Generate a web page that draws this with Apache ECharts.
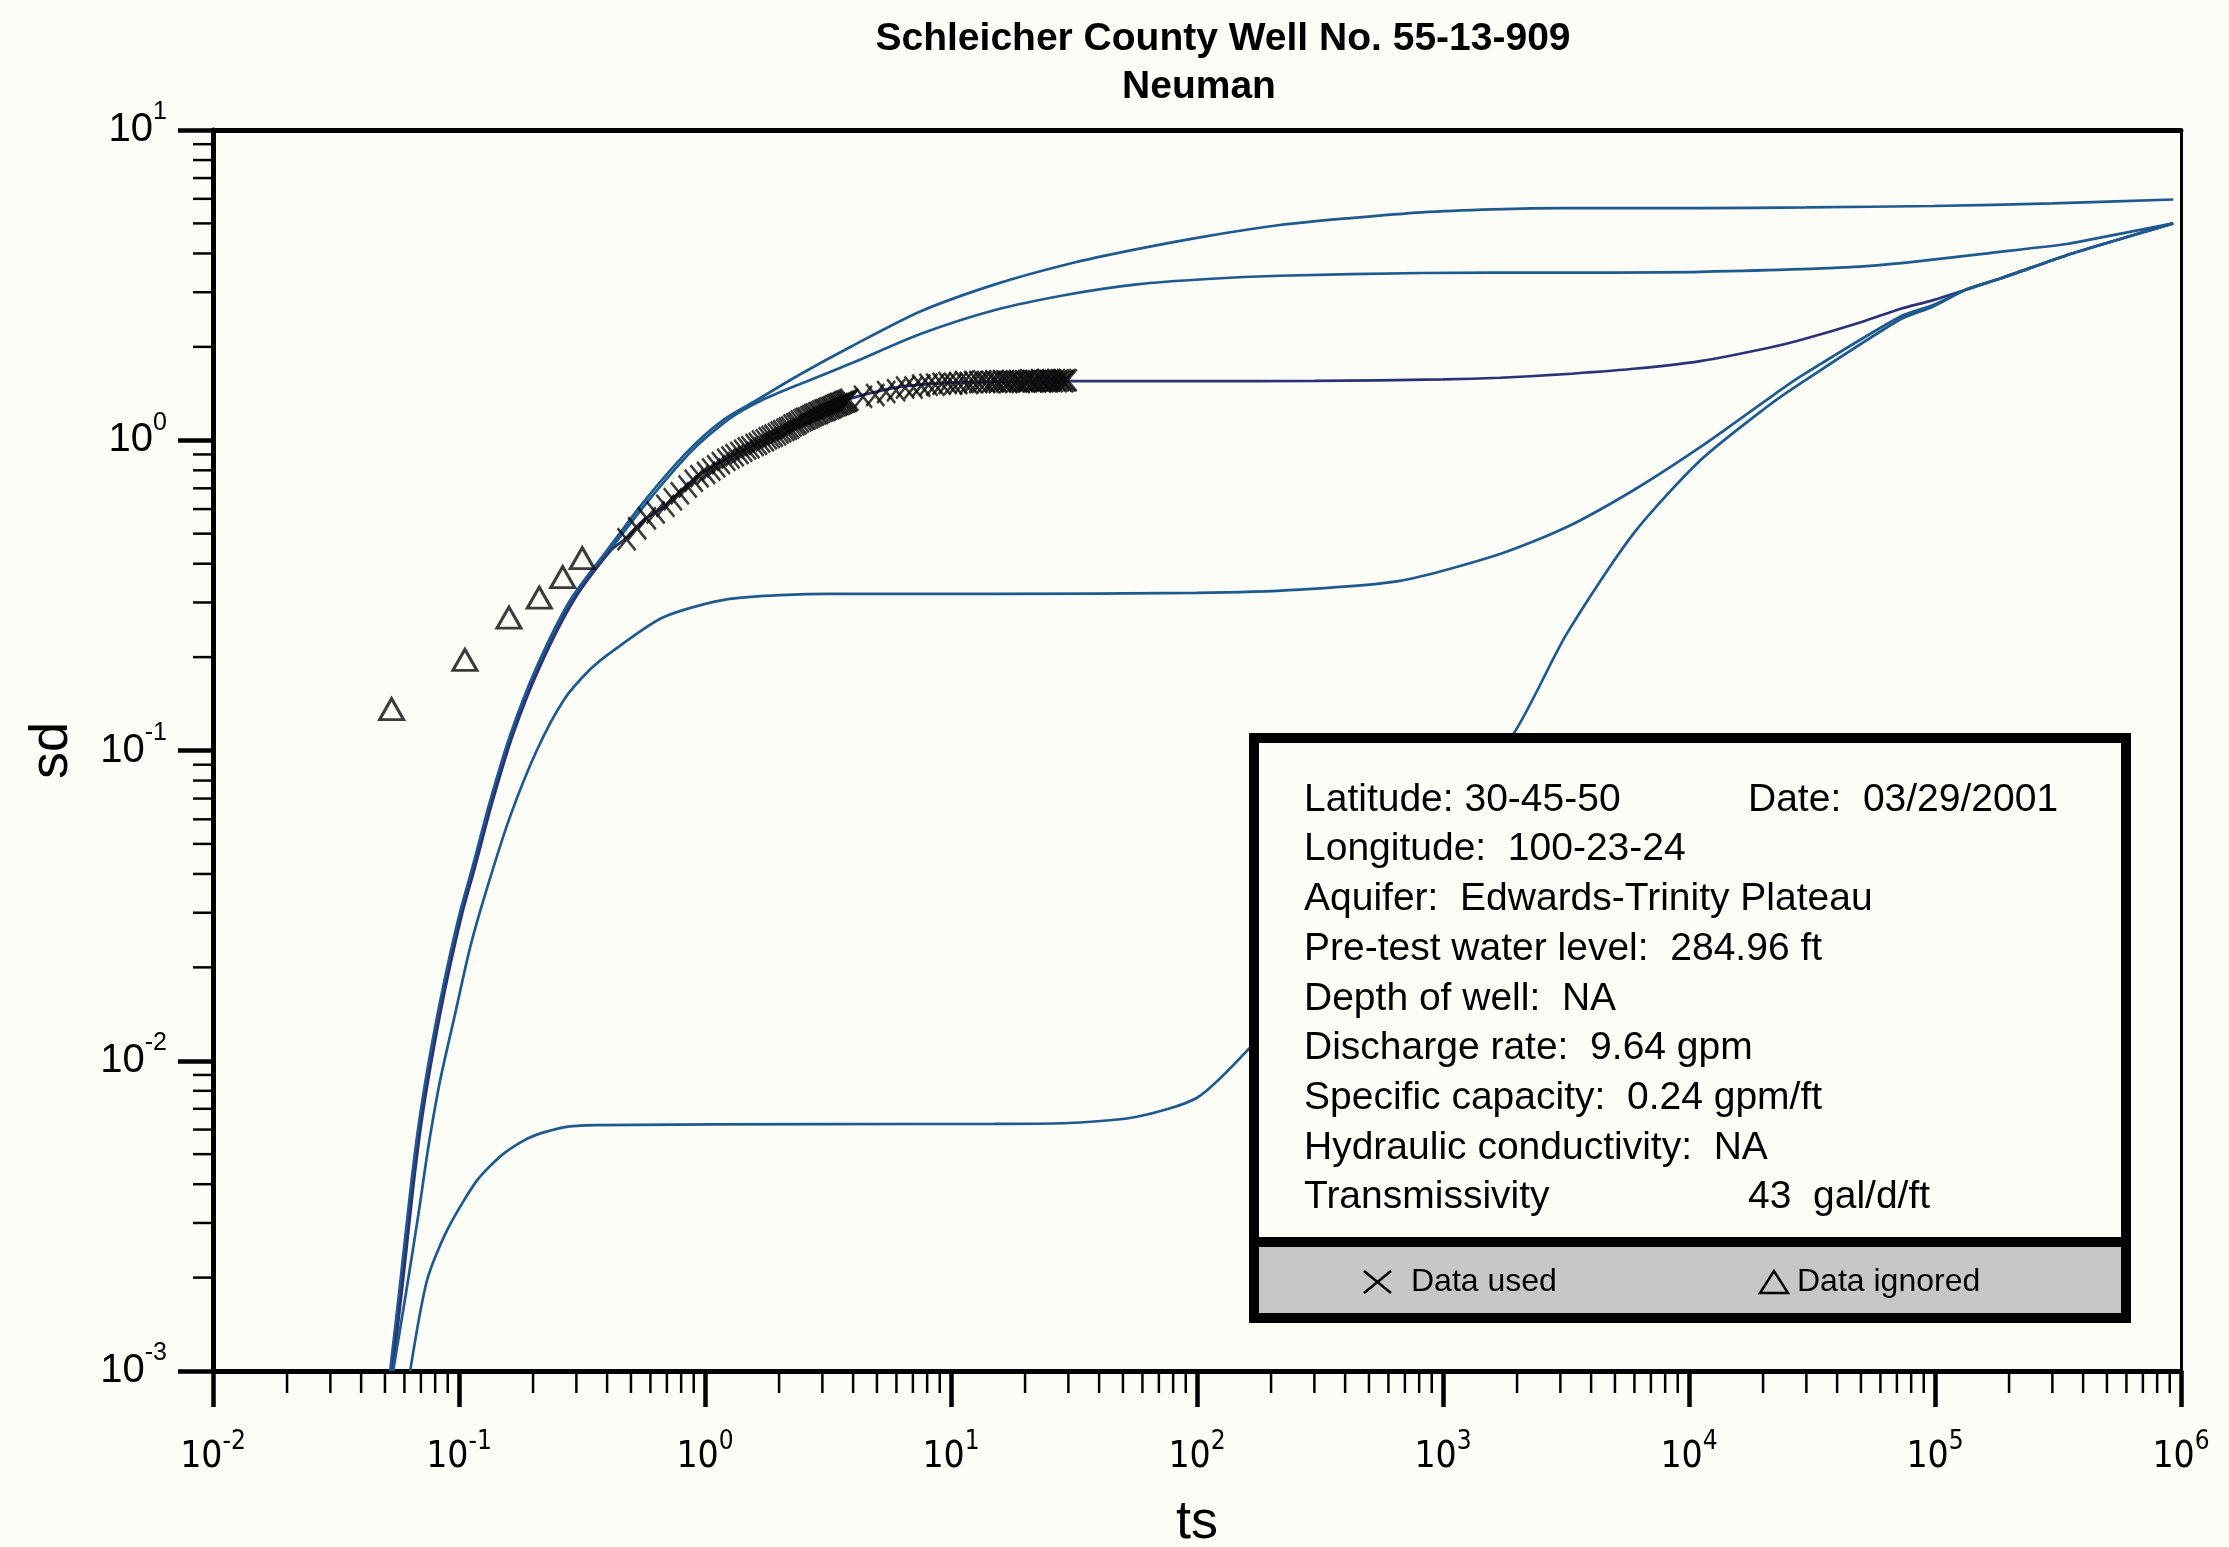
<!DOCTYPE html>
<html>
<head>
<meta charset="utf-8">
<script src="https://cdn.jsdelivr.net/npm/echarts@6.0.0/dist/echarts.min.js"></script>
<style>
html,body{margin:0;padding:0;background:#fdfdf8;}
#c{width:2229px;height:1547px;}
</style>
</head>
<body>
<div id="c"></div>
<script>
// ---------------- data ----------------
const X_MIN = 0.01, X_MAX = 1e6, Y_MIN = 0.001, Y_MAX = 10;

const titleLine1 = 'Schleicher County Well No. 55-13-909';
const titleLine2 = 'Neuman';
const xName = 'ts';
const yName = 'sd';

// type curves [ts, sd]
const curveA = [[0.0525,0.001],[0.0578,0.00195],[0.0641,0.0041],[0.0695,0.0067],[0.0771,0.011],[0.0872,0.0181],[0.1005,0.0297],[0.1134,0.042],[0.1333,0.068],[0.162,0.113],[0.207,0.186],[0.283,0.305],[0.40,0.442],[0.57,0.64],[0.86,0.929],[1.20,1.17],[1.62,1.346],[2.4,1.62],[4.0,2.02],[7.5,2.6],[15.1,3.18],[30,3.7],[57,4.13],[110,4.55],[217,4.94],[420,5.2],[820,5.43],[1600,5.55],[3100,5.6],[11100,5.6],[30000,5.63],[98200,5.69],[300000,5.8],[930000,5.97]];
const curveB = [[0.0531,0.001],[0.0585,0.00195],[0.0648,0.0041],[0.0703,0.0067],[0.078,0.011],[0.0883,0.0181],[0.1017,0.0297],[0.1148,0.042],[0.135,0.068],[0.164,0.113],[0.210,0.186],[0.288,0.305],[0.41,0.442],[0.59,0.64],[0.89,0.929],[1.25,1.17],[1.70,1.346],[2.6,1.55],[4.0,1.78],[7.5,2.2],[15.1,2.63],[30,2.95],[57,3.18],[110,3.31],[217,3.39],[820,3.46],[3000,3.47],[11100,3.49],[52700,3.64],[184000,4.05],[343000,4.29],[469000,4.5],[930000,5.0]];
const curveC = [[0.0537,0.001],[0.0592,0.00195],[0.0656,0.0041],[0.0711,0.0067],[0.079,0.011],[0.0893,0.0181],[0.1029,0.0297],[0.1161,0.042],[0.1365,0.068],[0.166,0.113],[0.213,0.186],[0.293,0.305],[0.415,0.442],[0.466,0.476],[0.561,0.552],[0.677,0.61],[0.925,0.762],[1.264,0.883],[1.726,1.0],[2.43,1.16],[3.88,1.36],[6.2,1.486],[9.9,1.53],[15.8,1.545],[30,1.55],[100,1.55],[300,1.553],[1000,1.57],[1706,1.59],[3000,1.63],[5946,1.70],[11100,1.80],[20700,1.98],[28200,2.10],[50000,2.4],[72100,2.65],[98400,2.83],[134000,3.06],[184000,3.32],[343000,3.95],[469000,4.26],[930000,5.0]];
const curveD = [[0.054,0.001],[0.061,0.0018],[0.0684,0.0032],[0.075,0.00525],[0.0837,0.0086],[0.0964,0.01415],[0.111,0.0232],[0.130,0.036],[0.161,0.061],[0.207,0.100],[0.266,0.145],[0.34,0.182],[0.424,0.210],[0.677,0.269],[1.26,0.308],[3.22,0.320],[15,0.32],[100,0.322],[262,0.330],[668,0.352],[1706,0.43],[3186,0.525],[5946,0.69],[11100,0.95],[20700,1.35],[28200,1.60],[72100,2.50],[98400,2.73],[134000,3.06],[184000,3.32],[343000,3.95],[469000,4.26],[930000,5.0]];
const curveE = [[0.0633,0.001],[0.074,0.00195],[0.0892,0.00283],[0.118,0.0041],[0.151,0.005],[0.194,0.00566],[0.266,0.0061],[0.363,0.0062],[3.22,0.00625],[15,0.00626],[30,0.0063],[57,0.0066],[100,0.0076],[155,0.0105],[300,0.019],[600,0.036],[1000,0.06],[1932,0.113],[3186,0.238],[5946,0.50],[11100,0.86],[20700,1.28],[28200,1.52],[72100,2.45],[98400,2.70],[134000,3.06],[184000,3.32],[343000,3.95],[469000,4.26],[930000,5.0]];

// observations
const dataUsed = [[0.48,0.48],[0.53,0.52],[0.58,0.56],[0.63,0.585],[0.69,0.615],[0.74,0.645],[0.79,0.675],[0.85,0.71],[0.90,0.74],[0.95,0.765],[1.01,0.785],[1.06,0.805],[1.11,0.825],[1.16,0.845],[1.22,0.865],[1.27,0.88],[1.32,0.895],[1.38,0.91],[1.43,0.925],[1.48,0.94],[1.53,0.95],[1.59,0.965],[1.64,0.975],[1.69,0.99],[1.75,1.0],[1.80,1.015],[1.85,1.025],[1.90,1.035],[1.96,1.045],[2.01,1.06],[2.06,1.07],[2.12,1.08],[2.17,1.09],[2.22,1.10],[2.27,1.115],[2.33,1.125],[2.38,1.135],[2.43,1.15],[2.49,1.16],[2.54,1.17],[2.59,1.175],[2.65,1.185],[2.70,1.195],[2.75,1.205],[2.80,1.21],[2.86,1.22],[2.91,1.225],[2.96,1.235],[3.02,1.245],[3.07,1.25],[3.12,1.255],[3.17,1.265],[3.23,1.27],[3.28,1.275],[3.33,1.285],[3.39,1.295],[3.44,1.30],[3.49,1.305],[3.54,1.31],[3.60,1.315],[3.65,1.325],[3.70,1.33],[3.76,1.335],[3.81,1.34],[3.86,1.35],[4.39,1.38],[4.92,1.40],[5.45,1.43],[5.98,1.45],[6.51,1.48],[7.04,1.48],[7.57,1.50],[8.10,1.51],[8.63,1.51],[9.16,1.52],[9.69,1.53],[10.2,1.52],[10.7,1.53],[11.3,1.54],[11.8,1.53],[12.3,1.54],[12.9,1.54],[13.4,1.55],[13.9,1.54],[14.5,1.54],[15.0,1.55],[15.5,1.54],[16.1,1.55],[16.6,1.55],[17.1,1.54],[17.6,1.55],[18.2,1.55],[18.7,1.55],[19.2,1.54],[19.8,1.55],[20.3,1.55],[20.8,1.56],[21.4,1.55],[21.9,1.55],[22.4,1.55],[23.0,1.56],[23.5,1.55],[24.0,1.55],[24.5,1.56],[25.1,1.55],[25.6,1.56],[26.1,1.55],[26.7,1.56],[27.2,1.55],[27.7,1.56],[28.3,1.56],[28.8,1.55],[29.3,1.56],[29.8,1.56]];
const dataIgnored = [[0.0532,0.136],[0.1057,0.196],[0.1596,0.268],[0.212,0.311],[0.264,0.362],[0.317,0.417]];

// info box text
const infoLeft = ['Latitude: 30-45-50','Longitude:  100-23-24','Aquifer:  Edwards-Trinity Plateau','Pre-test water level:  284.96 ft','Depth of well:  NA','Discharge rate:  9.64 gpm','Specific capacity:  0.24 gpm/ft','Hydraulic conductivity:  NA','Transmissivity'];
const infoRight = ['Date:  03/29/2001','','','','','','','','43  gal/d/ft'];
const legendUsed = 'Data used';
const legendIgnored = 'Data ignored';

// ---------------- styling ----------------
const FONT = "'Liberation Sans', Arial, Helvetica, sans-serif";
const NARROW = "'Liberation Sans Narrow', 'Arial Narrow', 'DejaVu Sans Condensed', sans-serif";
const BG = '#fdfdf8';
const LINE_COLORS = ['#1f5a8e', '#1f5a8e', '#2b3377', '#1f5a8e', '#1f5a8e'];

// minor tick positions (2..9 x each decade)
function minorValues(lo, hi) {
  const out = [];
  for (let e = lo; e < hi; e++) for (let m = 2; m <= 9; m++) out.push(m * Math.pow(10, e));
  return out;
}
const xMinor = minorValues(-2, 6).map(v => [v, Y_MIN]);
const yMinor = minorValues(-3, 1).map(v => [X_MIN, v]);

const expFmt = v => '{b|10}{e|' + Math.round(Math.log10(v)) + '}';

const chart = echarts.init(document.getElementById('c'), null, {renderer: 'canvas', width: 2229, height: 1547});

const curveSeries = [curveA, curveB, curveC, curveD, curveE].map((d, i) => ({
  type: 'line', data: d, showSymbol: false, smooth: 0.25, silent: true, z: 2,
  lineStyle: {width: 2.7, color: LINE_COLORS[i]}
}));

const graphicEls = [
  {type: 'text', x: 1223, y: 39, z: 20, style: {text: titleLine1, font: 'bold 39px ' + FONT, fill: '#000', align: 'center', verticalAlign: 'middle'}},
  {type: 'text', x: 1199, y: 87, z: 20, style: {text: titleLine2, font: 'bold 39px ' + FONT, fill: '#000', align: 'center', verticalAlign: 'middle'}},
  // info box
  {type: 'rect', z: 10, shape: {x: 1249, y: 733, width: 882, height: 590}, style: {fill: '#000'}},
  {type: 'rect', z: 10, shape: {x: 1259, y: 743, width: 862, height: 494}, style: {fill: BG}},
  {type: 'rect', z: 10, shape: {x: 1259, y: 1247, width: 862, height: 66}, style: {fill: '#c7c7c5'}},
  // legend marks
  {type: 'line', z: 11, shape: {x1: 1364, y1: 1271, x2: 1391, y2: 1293}, style: {stroke: '#000', lineWidth: 2.5}},
  {type: 'line', z: 11, shape: {x1: 1391, y1: 1271, x2: 1364, y2: 1293}, style: {stroke: '#000', lineWidth: 2.5}},
  {type: 'polygon', z: 11, shape: {points: [[1774, 1271], [1760, 1293], [1788, 1293]]}, style: {fill: 'none', stroke: '#000', lineWidth: 2.5}},
  {type: 'text', x: 1411, y: 1282, z: 11, style: {text: legendUsed, font: '32px ' + FONT, fill: '#000', align: 'left', verticalAlign: 'middle'}},
  {type: 'text', x: 1797, y: 1282, z: 11, style: {text: legendIgnored, font: '32px ' + FONT, fill: '#000', align: 'left', verticalAlign: 'middle'}}
];
infoLeft.forEach((t, i) => {
  graphicEls.push({type: 'text', x: 1304, y: 800 + 49.7 * i, z: 11, style: {text: t, font: '39px ' + FONT, fill: '#000', align: 'left', verticalAlign: 'middle'}});
  if (infoRight[i]) graphicEls.push({type: 'text', x: 1748, y: 800 + 49.7 * i, z: 11, style: {text: infoRight[i], font: '39px ' + FONT, fill: '#000', align: 'left', verticalAlign: 'middle'}});
});

const option = {
  backgroundColor: BG,
  animation: false,
  grid: {left: 213, top: 130, right: 48, bottom: 176, containLabel: false, outerBoundsMode: 'none'},
  xAxis: [{
    type: 'log', logBase: 10, min: X_MIN, max: X_MAX, splitNumber: 8, position: 'bottom',
    name: xName, nameLocation: 'middle', nameGap: 125,
    nameTextStyle: {fontSize: 54, fontFamily: FONT, color: '#000'},
    axisLine: {show: true, onZero: false, lineStyle: {color: '#000', width: 5}},
    axisTick: {show: true, inside: false, length: 36, lineStyle: {color: '#000', width: 4.5}},
    splitLine: {show: false},
    axisLabel: {show: true, margin: 58, color: '#000', showMinLabel: true, showMaxLabel: true, formatter: expFmt,
      rich: {b: {fontSize: 37, fontFamily: NARROW, lineHeight: 56, color: '#000'},
             e: {fontSize: 26, fontFamily: NARROW, lineHeight: 26, verticalAlign: 'top', color: '#000'}}}
  }, {
    type: 'log', logBase: 10, min: X_MIN, max: X_MAX, position: 'top', gridIndex: 0,
    axisLine: {show: true, onZero: false, lineStyle: {color: '#000', width: 5}},
    axisTick: {show: false}, axisLabel: {show: false}, splitLine: {show: false}
  }],
  yAxis: [{
    type: 'log', logBase: 10, min: Y_MIN, max: Y_MAX, splitNumber: 4, position: 'left',
    name: yName, nameLocation: 'middle', nameGap: 134, nameRotate: 90,
    nameTextStyle: {fontSize: 54, fontFamily: FONT, color: '#000'},
    axisLine: {show: true, onZero: false, lineStyle: {color: '#000', width: 5}},
    axisTick: {show: true, inside: false, length: 35, lineStyle: {color: '#000', width: 4.5}},
    splitLine: {show: false},
    axisLabel: {show: true, margin: 46, color: '#000', showMinLabel: true, showMaxLabel: true, formatter: expFmt,
      rich: {b: {fontSize: 40, fontFamily: FONT, lineHeight: 60, color: '#000'},
             e: {fontSize: 25, fontFamily: FONT, lineHeight: 26, verticalAlign: 'top', color: '#000'}}}
  }, {
    type: 'log', logBase: 10, min: Y_MIN, max: Y_MAX, position: 'right', gridIndex: 0,
    axisLine: {show: true, onZero: false, lineStyle: {color: '#000', width: 3}},
    axisTick: {show: false}, axisLabel: {show: false}, splitLine: {show: false}
  }],
  series: [
    {
      type: 'custom', name: 'xMinorTicks', data: xMinor, clip: false, silent: true, z: 1,
      renderItem: (params, api) => {
        const p = api.coord([api.value(0), api.value(1)]);
        return {type: 'line', shape: {x1: p[0], y1: p[1], x2: p[0], y2: p[1] + 22}, style: {stroke: '#000', lineWidth: 2.5}};
      }
    },
    {
      type: 'custom', name: 'yMinorTicks', data: yMinor, clip: false, silent: true, z: 1,
      renderItem: (params, api) => {
        const p = api.coord([api.value(0), api.value(1)]);
        return {type: 'line', shape: {x1: p[0], y1: p[1], x2: p[0] - 20, y2: p[1]}, style: {stroke: '#000', lineWidth: 2.5}};
      }
    },
    ...curveSeries,
    {
      type: 'scatter', name: legendUsed, data: dataUsed, z: 5, silent: true,
      symbol: 'path://M0,0L10,10M10,0L0,10', symbolSize: [18, 22],
      itemStyle: {color: 'rgba(0,0,0,0)', borderColor: '#0a0a0a', borderWidth: 2.6}
    },
    {
      type: 'scatter', name: legendIgnored, data: dataIgnored, z: 5, silent: true,
      symbol: 'triangle', symbolSize: [24, 21],
      itemStyle: {color: 'rgba(0,0,0,0)', borderColor: '#0a0a0a', borderWidth: 3}
    }
  ],
  graphic: {elements: graphicEls}
};
chart.setOption(option);
</script>
</body>
</html>
